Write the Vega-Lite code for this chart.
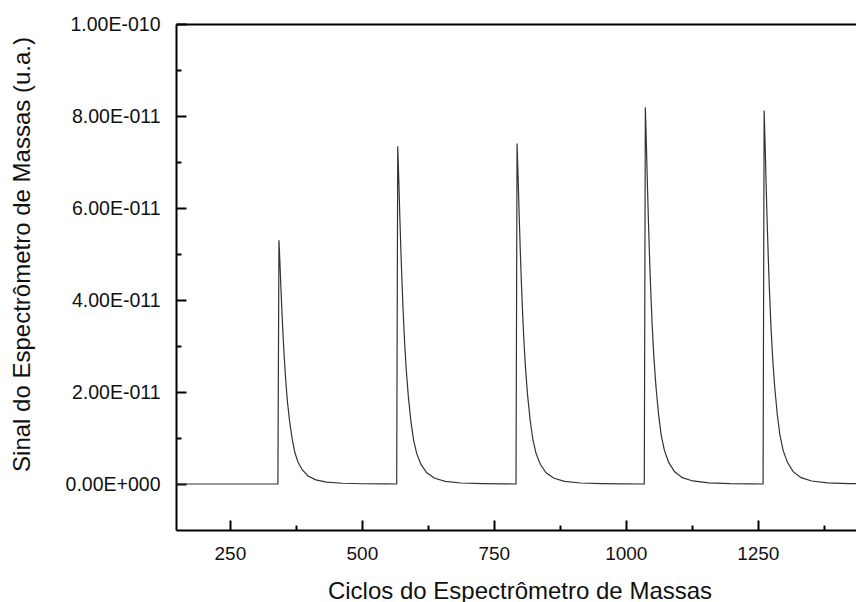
{
  "$schema": "https://vega.github.io/schema/vega-lite/v6.json",
  "width": 680,
  "height": 506,
  "autosize": {"type": "none"},
  "padding": {"left": 176, "top": 24, "right": 0, "bottom": 72},
  "background": "white",
  "config": {
    "view": {"stroke": null},
    "axis": {
      "labelFont": "Liberation Sans",
      "titleFont": "Liberation Sans",
      "domainColor": "black",
      "tickColor": "black",
      "domainWidth": 2,
      "tickWidth": 2,
      "labelColor": "#111",
      "titleColor": "#111",
      "grid": false,
      "labelOverlap": false,
      "labelFlush": false
    }
  },
  "data": {
    "values": [
      {"cycle": 140, "signal": 0},
      {"cycle": 341, "signal": 0},
      {"cycle": 343, "signal": 5.30e-11},
      {"cycle": 345, "signal": 4.77e-11},
      {"cycle": 347, "signal": 4.19e-11},
      {"cycle": 349, "signal": 3.66e-11},
      {"cycle": 351, "signal": 3.18e-11},
      {"cycle": 353, "signal": 2.76e-11},
      {"cycle": 356, "signal": 2.23e-11},
      {"cycle": 359, "signal": 1.80e-11},
      {"cycle": 363, "signal": 1.38e-11},
      {"cycle": 368, "signal": 0.98e-11},
      {"cycle": 373, "signal": 0.69e-11},
      {"cycle": 379, "signal": 0.48e-11},
      {"cycle": 387, "signal": 0.31e-11},
      {"cycle": 398, "signal": 0.175e-11},
      {"cycle": 413, "signal": 0.09e-11},
      {"cycle": 433, "signal": 0.042e-11},
      {"cycle": 463, "signal": 0.016e-11},
      {"cycle": 503, "signal": 0.005e-11},
      {"cycle": 543, "signal": 0.0016e-11},
      {"cycle": 566, "signal": 0},
      {"cycle": 568, "signal": 7.34e-11},
      {"cycle": 570, "signal": 6.61e-11},
      {"cycle": 572, "signal": 5.80e-11},
      {"cycle": 574, "signal": 5.06e-11},
      {"cycle": 576, "signal": 4.40e-11},
      {"cycle": 578, "signal": 3.82e-11},
      {"cycle": 581, "signal": 3.08e-11},
      {"cycle": 584, "signal": 2.50e-11},
      {"cycle": 588, "signal": 1.91e-11},
      {"cycle": 593, "signal": 1.36e-11},
      {"cycle": 598, "signal": 0.954e-11},
      {"cycle": 604, "signal": 0.661e-11},
      {"cycle": 612, "signal": 0.426e-11},
      {"cycle": 623, "signal": 0.242e-11},
      {"cycle": 638, "signal": 0.125e-11},
      {"cycle": 658, "signal": 0.059e-11},
      {"cycle": 688, "signal": 0.022e-11},
      {"cycle": 728, "signal": 0.0073e-11},
      {"cycle": 768, "signal": 0.0022e-11},
      {"cycle": 792, "signal": 0},
      {"cycle": 794, "signal": 7.40e-11},
      {"cycle": 796, "signal": 6.66e-11},
      {"cycle": 798, "signal": 5.85e-11},
      {"cycle": 800, "signal": 5.11e-11},
      {"cycle": 802, "signal": 4.44e-11},
      {"cycle": 804, "signal": 3.85e-11},
      {"cycle": 807, "signal": 3.11e-11},
      {"cycle": 810, "signal": 2.52e-11},
      {"cycle": 814, "signal": 1.92e-11},
      {"cycle": 819, "signal": 1.37e-11},
      {"cycle": 824, "signal": 0.962e-11},
      {"cycle": 830, "signal": 0.666e-11},
      {"cycle": 838, "signal": 0.429e-11},
      {"cycle": 849, "signal": 0.244e-11},
      {"cycle": 864, "signal": 0.126e-11},
      {"cycle": 884, "signal": 0.059e-11},
      {"cycle": 914, "signal": 0.022e-11},
      {"cycle": 954, "signal": 0.0074e-11},
      {"cycle": 994, "signal": 0.0022e-11},
      {"cycle": 1035, "signal": 0},
      {"cycle": 1037, "signal": 8.19e-11},
      {"cycle": 1039, "signal": 7.37e-11},
      {"cycle": 1041, "signal": 6.47e-11},
      {"cycle": 1043, "signal": 5.65e-11},
      {"cycle": 1045, "signal": 4.91e-11},
      {"cycle": 1047, "signal": 4.26e-11},
      {"cycle": 1050, "signal": 3.44e-11},
      {"cycle": 1053, "signal": 2.78e-11},
      {"cycle": 1057, "signal": 2.13e-11},
      {"cycle": 1062, "signal": 1.52e-11},
      {"cycle": 1067, "signal": 1.06e-11},
      {"cycle": 1073, "signal": 0.737e-11},
      {"cycle": 1081, "signal": 0.475e-11},
      {"cycle": 1092, "signal": 0.270e-11},
      {"cycle": 1107, "signal": 0.139e-11},
      {"cycle": 1127, "signal": 0.066e-11},
      {"cycle": 1157, "signal": 0.025e-11},
      {"cycle": 1197, "signal": 0.0082e-11},
      {"cycle": 1237, "signal": 0.0025e-11},
      {"cycle": 1260, "signal": 0},
      {"cycle": 1262, "signal": 8.12e-11},
      {"cycle": 1264, "signal": 7.31e-11},
      {"cycle": 1266, "signal": 6.41e-11},
      {"cycle": 1268, "signal": 5.60e-11},
      {"cycle": 1270, "signal": 4.87e-11},
      {"cycle": 1272, "signal": 4.22e-11},
      {"cycle": 1275, "signal": 3.41e-11},
      {"cycle": 1278, "signal": 2.76e-11},
      {"cycle": 1282, "signal": 2.11e-11},
      {"cycle": 1287, "signal": 1.50e-11},
      {"cycle": 1292, "signal": 1.06e-11},
      {"cycle": 1298, "signal": 0.731e-11},
      {"cycle": 1306, "signal": 0.471e-11},
      {"cycle": 1317, "signal": 0.268e-11},
      {"cycle": 1332, "signal": 0.138e-11},
      {"cycle": 1352, "signal": 0.065e-11},
      {"cycle": 1382, "signal": 0.024e-11},
      {"cycle": 1422, "signal": 0.0081e-11},
      {"cycle": 1462, "signal": 0.0024e-11}
    ]
  },
  "layer": [
    {
      "mark": {"type": "line", "color": "#333", "strokeWidth": 1.2, "clip": true},
      "encoding": {
        "x": {
          "field": "cycle",
          "type": "quantitative",
          "scale": {"domain": [148, 1436], "nice": false, "zero": false},
          "axis": {
            "orient": "bottom",
            "values": [250, 500, 750, 1000, 1250],
            "format": "d",
            "ticks": false,
            "tickSize": 0,
            "labelPadding": 14,
            "labelFontSize": 19,
            "title": "Ciclos do Espectrômetro de Massas",
            "titleFontSize": 24,
            "titleFontWeight": "normal",
            "titleX": 343.5,
            "titleY": 68,
            "titleBaseline": "alphabetic"
          }
        },
        "y": {
          "field": "signal",
          "type": "quantitative",
          "scale": {"domain": [-1e-11, 1e-10], "nice": false, "zero": false},
          "axis": {
            "orient": "left",
            "values": [0, 2e-11, 4e-11, 6e-11, 8e-11, 1e-10],
            "labelExpr": "abs(datum.value) < 1e-15 ? '0.00E+000' : datum.value > 9.5e-11 ? '1.00E-010' : format(datum.value * 1e11, '.2f') + 'E-011'",
            "ticks": false,
            "tickSize": 0,
            "labelPadding": 16,
            "labelFontSize": 19.5,
            "title": "Sinal do Espectrômetro de Massas (u.a.)",
            "titleFontSize": 24,
            "titleFontWeight": "normal",
            "titleX": -147,
            "titleY": 230,
            "titleBaseline": "alphabetic"
          }
        }
      }
    },
    {
      "mark": {"type": "line", "strokeOpacity": 0, "clip": true},
      "encoding": {
        "x": {
          "field": "cycle",
          "type": "quantitative",
          "axis": {
            "orient": "top",
            "offset": -506,
            "values": [250, 500, 750, 1000, 1250],
            "tickSize": 10,
            "labels": false,
            "domain": false,
            "title": null
          }
        },
        "y": {
          "field": "signal",
          "type": "quantitative",
          "axis": {
            "orient": "right",
            "offset": -680,
            "values": [0, 2e-11, 4e-11, 6e-11, 8e-11, 1e-10],
            "tickSize": 10,
            "labels": false,
            "domain": false,
            "title": null
          }
        }
      }
    },
    {
      "mark": {"type": "line", "strokeOpacity": 0, "clip": true},
      "encoding": {
        "x": {
          "field": "cycle",
          "type": "quantitative",
          "axis": {
            "orient": "top",
            "offset": -506,
            "values": [375, 625, 875, 1125, 1375],
            "tickSize": 5,
            "labels": false,
            "domain": false,
            "title": null
          }
        },
        "y": {
          "field": "signal",
          "type": "quantitative",
          "axis": {
            "orient": "right",
            "offset": -680,
            "values": [1e-11, 3e-11, 5e-11, 7e-11, 9e-11],
            "tickSize": 5,
            "labels": false,
            "domain": false,
            "title": null
          }
        }
      }
    },
    {
      "mark": {"type": "line", "strokeOpacity": 0, "clip": true},
      "encoding": {
        "x": {
          "field": "cycle",
          "type": "quantitative",
          "axis": {
            "orient": "top",
            "ticks": false,
            "labels": false,
            "domain": true,
            "title": null
          }
        },
        "y": {"field": "signal", "type": "quantitative", "axis": null}
      }
    }
  ],
  "resolve": {"axis": {"x": "independent", "y": "independent"}}
}
